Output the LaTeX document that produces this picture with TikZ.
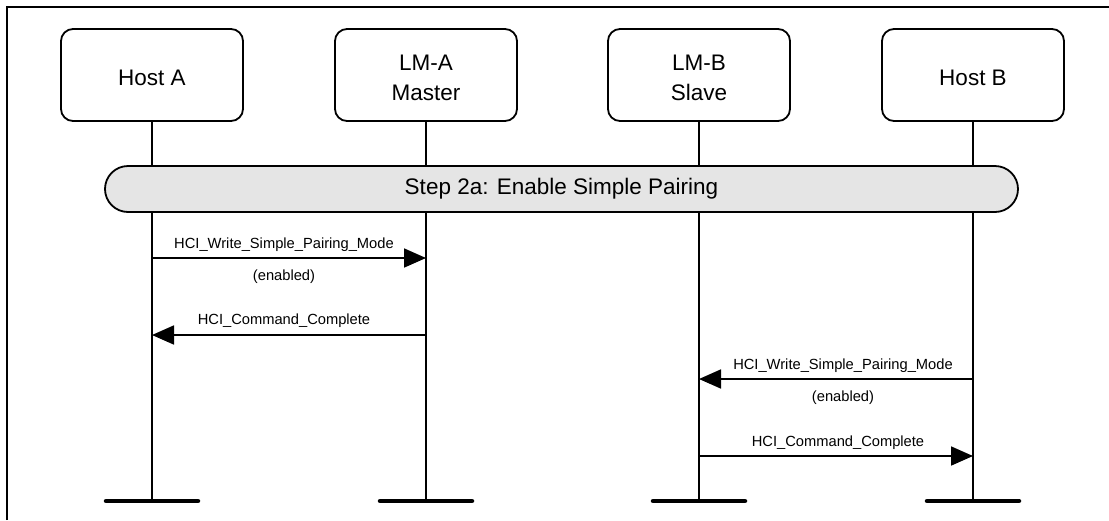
\documentclass[tikz,border=0pt]{standalone}
\usepackage{fontspec}
\setmainfont{Liberation Sans}
\usetikzlibrary{arrows.meta,shapes.misc}
\definecolor{bannergray}{RGB}{229,229,229}
\newcommand\entitytext[1]{\raisebox{-10pt}[0pt][0pt]{\begin{tabular}{@{}c@{}}#1\end{tabular}}}
\begin{document}
\begin{tikzpicture}[x=1pt,y=-1pt,
  entity/.style={draw,line width=1.8pt,rounded corners=12pt,minimum width=182pt,minimum height=92pt,
    inner sep=0pt,font=\fontsize{22.5}{30}\selectfont},
  lifeline/.style={line width=1.8pt},
  foot/.style={line width=4.5pt,line cap=round},
  msg/.style={line width=1.8pt,-{Triangle[length=22pt,width=19pt]}},
  lbl/.style={font=\fontsize{14.7}{17}\selectfont,inner sep=0pt},
  banner/.style={draw,line width=1.8pt,fill=bannergray,rounded rectangle,minimum width=913pt,minimum height=46pt,
    font=\fontsize{22.5}{26}\selectfont,inner sep=0pt}]
\useasboundingbox (0,0) rectangle (1109,520);
\draw[line width=1.8pt] (7,520) -- (7,7) -- (1109,7);
% entities
\node[entity] (hA) at (152,75) {\entitytext{Host A}};
\node[entity] (lA) at (426,75) {\entitytext{LM-A\\Master}};
\node[entity] (lB) at (699,75) {\entitytext{LM-B\\Slave}};
\node[entity] (hB) at (973,75) {\entitytext{Host B}};
% foot coordinates
\coordinate (fA) at (152,501);
\coordinate (fLA) at (426,501);
\coordinate (fLB) at (699,501);
\coordinate (fB) at (973,501);
\draw[lifeline] (hA.south) -- (fA);
\draw[lifeline] (lA.south) -- (fLA);
\draw[lifeline] (lB.south) -- (fLB);
\draw[lifeline] (hB.south) -- (fB);
\foreach \f in {fA,fLA,fLB,fB}{\draw[foot] ([xshift=-46pt]\f) -- ([xshift=46pt]\f);}
% banner
\node[banner] (step) at (561.5,189) {Step 2a: Enable Simple Pairing};
% message coordinates
\coordinate (m1s) at (152,258); \coordinate (m1e) at (426,258);
\coordinate (m2s) at (426,335); \coordinate (m2e) at (152,335);
\coordinate (m3s) at (973,379); \coordinate (m3e) at (699,379);
\coordinate (m4s) at (699,456); \coordinate (m4e) at (973,456);
\draw[msg] (m1s) -- (m1e);
\node[lbl] (t1) at (284,245) {HCI\_Write\_Simple\_Pairing\_Mode};
\node[lbl] (t1b) at (284,277) {(enabled)};
\draw[msg] (m2s) -- (m2e);
\node[lbl] (t2) at (284,321) {HCI\_Command\_Complete};
\draw[msg] (m3s) -- (m3e);
\node[lbl] (t3) at (843,366) {HCI\_Write\_Simple\_Pairing\_Mode};
\node[lbl] (t3b) at (843,398) {(enabled)};
\draw[msg] (m4s) -- (m4e);
\node[lbl] (t4) at (838,443) {HCI\_Command\_Complete};
\end{tikzpicture}
\end{document}
